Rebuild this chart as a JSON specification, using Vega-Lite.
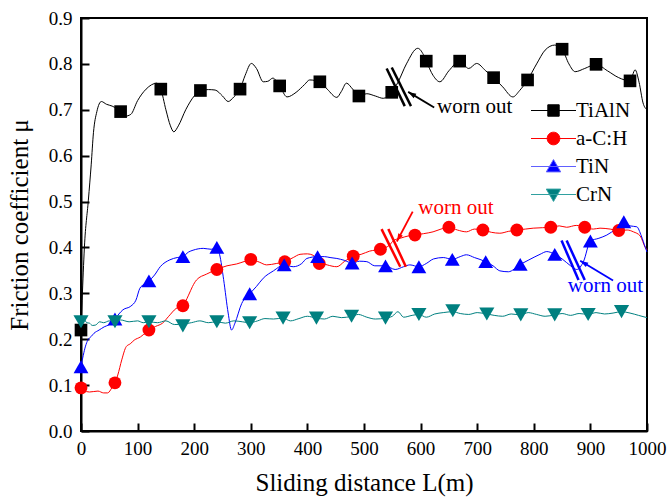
{
 "$schema": "https://vega.github.io/schema/vega-lite/v6.json",
 "width": 566,
 "height": 413,
 "autosize": {"type": "none"},
 "padding": {"left": 81, "top": 18, "right": 24, "bottom": 67},
 "background": "white",
 "config": {
  "font": "Liberation Serif",
  "view": {"stroke": "black", "strokeWidth": 2},
  "axis": {
   "grid": false,
   "domainColor": "black",
   "domainWidth": 2,
   "tickColor": "black",
   "tickWidth": 2,
   "labelFont": "Liberation Serif",
   "labelFontSize": 19,
   "labelColor": "black",
   "titleFont": "Liberation Serif",
   "titleFontSize": 25,
   "titleFontWeight": "normal",
   "titleColor": "black",
   "zindex": 1
  },
  "legend": {
   "labelFont": "Liberation Serif",
   "labelFontSize": 21,
   "labelColor": "black"
  }
 },
 "datasets": {
  "lines": [
   {"series":"TiAlN","x":0,"y":0.22},{"series":"TiAlN","x":2,"y":0.285},{"series":"TiAlN","x":6,"y":0.4},{"series":"TiAlN","x":13,"y":0.503},{"series":"TiAlN","x":18,"y":0.58},{"series":"TiAlN","x":22,"y":0.65},{"series":"TiAlN","x":28,"y":0.696},{"series":"TiAlN","x":36,"y":0.718},{"series":"TiAlN","x":45,"y":0.712},{"series":"TiAlN","x":55,"y":0.708},{"series":"TiAlN","x":70,"y":0.696},{"series":"TiAlN","x":78,"y":0.686},{"series":"TiAlN","x":88,"y":0.69},{"series":"TiAlN","x":100,"y":0.72},{"series":"TiAlN","x":115,"y":0.745},{"series":"TiAlN","x":134,"y":0.758},{"series":"TiAlN","x":141,"y":0.745},{"series":"TiAlN","x":150,"y":0.7},{"series":"TiAlN","x":158,"y":0.665},{"series":"TiAlN","x":164,"y":0.652},{"series":"TiAlN","x":172,"y":0.665},{"series":"TiAlN","x":185,"y":0.7},{"series":"TiAlN","x":200,"y":0.73},{"series":"TiAlN","x":211,"y":0.742},{"series":"TiAlN","x":225,"y":0.744},{"series":"TiAlN","x":237,"y":0.743},{"series":"TiAlN","x":250,"y":0.73},{"series":"TiAlN","x":260,"y":0.718},{"series":"TiAlN","x":270,"y":0.728},{"series":"TiAlN","x":281,"y":0.745},{"series":"TiAlN","x":290,"y":0.775},{"series":"TiAlN","x":301,"y":0.801},{"series":"TiAlN","x":310,"y":0.79},{"series":"TiAlN","x":322,"y":0.761},{"series":"TiAlN","x":330,"y":0.762},{"series":"TiAlN","x":339,"y":0.769},{"series":"TiAlN","x":351,"y":0.752},{"series":"TiAlN","x":364,"y":0.728},{"series":"TiAlN","x":380,"y":0.738},{"series":"TiAlN","x":395,"y":0.755},{"series":"TiAlN","x":404,"y":0.765},{"series":"TiAlN","x":422,"y":0.761},{"series":"TiAlN","x":435,"y":0.745},{"series":"TiAlN","x":452,"y":0.727},{"series":"TiAlN","x":460,"y":0.74},{"series":"TiAlN","x":469,"y":0.758},{"series":"TiAlN","x":480,"y":0.745},{"series":"TiAlN","x":491,"y":0.73},{"series":"TiAlN","x":505,"y":0.735},{"series":"TiAlN","x":520,"y":0.73},{"series":"TiAlN","x":534,"y":0.725},{"series":"TiAlN","x":549,"y":0.738},{"series":"TiAlN","x":560,"y":0.76},{"series":"TiAlN","x":575,"y":0.8},{"series":"TiAlN","x":595,"y":0.834},{"series":"TiAlN","x":605,"y":0.82},{"series":"TiAlN","x":610,"y":0.806},{"series":"TiAlN","x":622,"y":0.775},{"series":"TiAlN","x":634,"y":0.761},{"series":"TiAlN","x":650,"y":0.785},{"series":"TiAlN","x":669,"y":0.806},{"series":"TiAlN","x":685,"y":0.79},{"series":"TiAlN","x":699,"y":0.801},{"series":"TiAlN","x":715,"y":0.785},{"series":"TiAlN","x":729,"y":0.77},{"series":"TiAlN","x":745,"y":0.75},{"series":"TiAlN","x":763,"y":0.728},{"series":"TiAlN","x":775,"y":0.742},{"series":"TiAlN","x":789,"y":0.765},{"series":"TiAlN","x":805,"y":0.8},{"series":"TiAlN","x":820,"y":0.83},{"series":"TiAlN","x":837,"y":0.841},{"series":"TiAlN","x":850,"y":0.832},{"series":"TiAlN","x":862,"y":0.8},{"series":"TiAlN","x":873,"y":0.783},{"series":"TiAlN","x":890,"y":0.79},{"series":"TiAlN","x":910,"y":0.799},{"series":"TiAlN","x":930,"y":0.785},{"series":"TiAlN","x":950,"y":0.77},{"series":"TiAlN","x":970,"y":0.763},{"series":"TiAlN","x":979,"y":0.787},{"series":"TiAlN","x":986,"y":0.76},{"series":"TiAlN","x":993,"y":0.715},{"series":"TiAlN","x":1000,"y":0.7},
   {"series":"a-C:H","x":0,"y":0.094},{"series":"a-C:H","x":5,"y":0.088},{"series":"a-C:H","x":15,"y":0.085},{"series":"a-C:H","x":30,"y":0.087},{"series":"a-C:H","x":40,"y":0.083},{"series":"a-C:H","x":47,"y":0.083},{"series":"a-C:H","x":55,"y":0.095},{"series":"a-C:H","x":60,"y":0.105},{"series":"a-C:H","x":65,"y":0.122},{"series":"a-C:H","x":72,"y":0.155},{"series":"a-C:H","x":80,"y":0.184},{"series":"a-C:H","x":87,"y":0.19},{"series":"a-C:H","x":94,"y":0.198},{"series":"a-C:H","x":105,"y":0.205},{"series":"a-C:H","x":115,"y":0.215},{"series":"a-C:H","x":120,"y":0.22},{"series":"a-C:H","x":132,"y":0.228},{"series":"a-C:H","x":144,"y":0.235},{"series":"a-C:H","x":155,"y":0.25},{"series":"a-C:H","x":168,"y":0.267},{"series":"a-C:H","x":180,"y":0.273},{"series":"a-C:H","x":190,"y":0.296},{"series":"a-C:H","x":197,"y":0.315},{"series":"a-C:H","x":204,"y":0.329},{"series":"a-C:H","x":222,"y":0.342},{"series":"a-C:H","x":240,"y":0.352},{"series":"a-C:H","x":258,"y":0.36},{"series":"a-C:H","x":275,"y":0.364},{"series":"a-C:H","x":290,"y":0.37},{"series":"a-C:H","x":300,"y":0.374},{"series":"a-C:H","x":315,"y":0.368},{"series":"a-C:H","x":328,"y":0.362},{"series":"a-C:H","x":345,"y":0.365},{"series":"a-C:H","x":360,"y":0.369},{"series":"a-C:H","x":375,"y":0.378},{"series":"a-C:H","x":387,"y":0.385},{"series":"a-C:H","x":400,"y":0.386},{"series":"a-C:H","x":410,"y":0.383},{"series":"a-C:H","x":421,"y":0.368},{"series":"a-C:H","x":435,"y":0.362},{"series":"a-C:H","x":452,"y":0.358},{"series":"a-C:H","x":466,"y":0.37},{"series":"a-C:H","x":481,"y":0.381},{"series":"a-C:H","x":495,"y":0.385},{"series":"a-C:H","x":510,"y":0.392},{"series":"a-C:H","x":529,"y":0.396},{"series":"a-C:H","x":545,"y":0.405},{"series":"a-C:H","x":552,"y":0.415},{"series":"a-C:H","x":564,"y":0.42},{"series":"a-C:H","x":578,"y":0.425},{"series":"a-C:H","x":590,"y":0.427},{"series":"a-C:H","x":605,"y":0.43},{"series":"a-C:H","x":622,"y":0.434},{"series":"a-C:H","x":636,"y":0.44},{"series":"a-C:H","x":650,"y":0.444},{"series":"a-C:H","x":665,"y":0.438},{"series":"a-C:H","x":681,"y":0.434},{"series":"a-C:H","x":695,"y":0.44},{"series":"a-C:H","x":710,"y":0.438},{"series":"a-C:H","x":725,"y":0.433},{"series":"a-C:H","x":740,"y":0.431},{"series":"a-C:H","x":755,"y":0.435},{"series":"a-C:H","x":770,"y":0.438},{"series":"a-C:H","x":785,"y":0.44},{"series":"a-C:H","x":799,"y":0.442},{"series":"a-C:H","x":815,"y":0.443},{"series":"a-C:H","x":830,"y":0.444},{"series":"a-C:H","x":845,"y":0.447},{"series":"a-C:H","x":858,"y":0.444},{"series":"a-C:H","x":875,"y":0.448},{"series":"a-C:H","x":890,"y":0.444},{"series":"a-C:H","x":905,"y":0.44},{"series":"a-C:H","x":917,"y":0.442},{"series":"a-C:H","x":935,"y":0.44},{"series":"a-C:H","x":950,"y":0.437},{"series":"a-C:H","x":965,"y":0.438},{"series":"a-C:H","x":976,"y":0.434},{"series":"a-C:H","x":988,"y":0.425},{"series":"a-C:H","x":997,"y":0.4},{"series":"a-C:H","x":1000,"y":0.395},
   {"series":"TiN","x":0,"y":0.14},{"series":"TiN","x":4,"y":0.165},{"series":"TiN","x":8,"y":0.185},{"series":"TiN","x":12,"y":0.198},{"series":"TiN","x":18,"y":0.206},{"series":"TiN","x":23,"y":0.213},{"series":"TiN","x":32,"y":0.22},{"series":"TiN","x":41,"y":0.227},{"series":"TiN","x":50,"y":0.232},{"series":"TiN","x":60,"y":0.244},{"series":"TiN","x":67,"y":0.255},{"series":"TiN","x":74,"y":0.264},{"series":"TiN","x":88,"y":0.272},{"series":"TiN","x":97,"y":0.285},{"series":"TiN","x":104,"y":0.311},{"series":"TiN","x":112,"y":0.32},{"series":"TiN","x":120,"y":0.327},{"series":"TiN","x":130,"y":0.34},{"series":"TiN","x":140,"y":0.358},{"series":"TiN","x":157,"y":0.373},{"series":"TiN","x":170,"y":0.378},{"series":"TiN","x":180,"y":0.38},{"series":"TiN","x":190,"y":0.39},{"series":"TiN","x":198,"y":0.394},{"series":"TiN","x":216,"y":0.398},{"series":"TiN","x":230,"y":0.396},{"series":"TiN","x":240,"y":0.4},{"series":"TiN","x":245,"y":0.384},{"series":"TiN","x":252,"y":0.33},{"series":"TiN","x":260,"y":0.257},{"series":"TiN","x":266,"y":0.22},{"series":"TiN","x":272,"y":0.235},{"series":"TiN","x":284,"y":0.278},{"series":"TiN","x":298,"y":0.299},{"series":"TiN","x":310,"y":0.315},{"series":"TiN","x":322,"y":0.333},{"series":"TiN","x":340,"y":0.349},{"series":"TiN","x":359,"y":0.362},{"series":"TiN","x":375,"y":0.358},{"series":"TiN","x":390,"y":0.365},{"series":"TiN","x":399,"y":0.376},{"series":"TiN","x":418,"y":0.38},{"series":"TiN","x":430,"y":0.38},{"series":"TiN","x":440,"y":0.378},{"series":"TiN","x":452,"y":0.376},{"series":"TiN","x":465,"y":0.372},{"series":"TiN","x":479,"y":0.366},{"series":"TiN","x":492,"y":0.37},{"series":"TiN","x":505,"y":0.369},{"series":"TiN","x":519,"y":0.36},{"series":"TiN","x":538,"y":0.36},{"series":"TiN","x":555,"y":0.352},{"series":"TiN","x":570,"y":0.358},{"series":"TiN","x":581,"y":0.362},{"series":"TiN","x":597,"y":0.358},{"series":"TiN","x":610,"y":0.365},{"series":"TiN","x":623,"y":0.375},{"series":"TiN","x":640,"y":0.378},{"series":"TiN","x":656,"y":0.374},{"series":"TiN","x":670,"y":0.38},{"series":"TiN","x":681,"y":0.384},{"series":"TiN","x":695,"y":0.378},{"series":"TiN","x":715,"y":0.369},{"series":"TiN","x":728,"y":0.36},{"series":"TiN","x":740,"y":0.349},{"series":"TiN","x":755,"y":0.347},{"series":"TiN","x":776,"y":0.363},{"series":"TiN","x":790,"y":0.372},{"series":"TiN","x":811,"y":0.385},{"series":"TiN","x":823,"y":0.391},{"series":"TiN","x":837,"y":0.385},{"series":"TiN","x":850,"y":0.375},{"series":"TiN","x":865,"y":0.36},{"series":"TiN","x":876,"y":0.352},{"series":"TiN","x":888,"y":0.37},{"series":"TiN","x":900,"y":0.414},{"series":"TiN","x":915,"y":0.42},{"series":"TiN","x":929,"y":0.427},{"series":"TiN","x":945,"y":0.44},{"series":"TiN","x":959,"y":0.452},{"series":"TiN","x":970,"y":0.447},{"series":"TiN","x":982,"y":0.445},{"series":"TiN","x":990,"y":0.425},{"series":"TiN","x":997,"y":0.4},{"series":"TiN","x":1000,"y":0.39},
   {"series":"CrN","x":0,"y":0.238},{"series":"CrN","x":5,"y":0.245},{"series":"CrN","x":10,"y":0.236},{"series":"CrN","x":15,"y":0.235},{"series":"CrN","x":20,"y":0.23},{"series":"CrN","x":26,"y":0.231},{"series":"CrN","x":33,"y":0.238},{"series":"CrN","x":40,"y":0.236},{"series":"CrN","x":50,"y":0.24},{"series":"CrN","x":60,"y":0.238},{"series":"CrN","x":70,"y":0.242},{"series":"CrN","x":85,"y":0.238},{"series":"CrN","x":100,"y":0.24},{"series":"CrN","x":110,"y":0.236},{"series":"CrN","x":120,"y":0.238},{"series":"CrN","x":135,"y":0.236},{"series":"CrN","x":150,"y":0.24},{"series":"CrN","x":165,"y":0.232},{"series":"CrN","x":180,"y":0.233},{"series":"CrN","x":195,"y":0.236},{"series":"CrN","x":210,"y":0.24},{"series":"CrN","x":225,"y":0.236},{"series":"CrN","x":240,"y":0.238},{"series":"CrN","x":255,"y":0.235},{"series":"CrN","x":270,"y":0.24},{"series":"CrN","x":285,"y":0.238},{"series":"CrN","x":298,"y":0.236},{"series":"CrN","x":312,"y":0.24},{"series":"CrN","x":325,"y":0.245},{"series":"CrN","x":340,"y":0.244},{"series":"CrN","x":357,"y":0.246},{"series":"CrN","x":370,"y":0.24},{"series":"CrN","x":385,"y":0.245},{"series":"CrN","x":400,"y":0.25},{"series":"CrN","x":416,"y":0.246},{"series":"CrN","x":430,"y":0.244},{"series":"CrN","x":445,"y":0.25},{"series":"CrN","x":460,"y":0.247},{"series":"CrN","x":478,"y":0.25},{"series":"CrN","x":490,"y":0.254},{"series":"CrN","x":505,"y":0.248},{"series":"CrN","x":520,"y":0.244},{"series":"CrN","x":538,"y":0.246},{"series":"CrN","x":550,"y":0.25},{"series":"CrN","x":560,"y":0.26},{"series":"CrN","x":570,"y":0.248},{"series":"CrN","x":585,"y":0.252},{"series":"CrN","x":597,"y":0.254},{"series":"CrN","x":610,"y":0.248},{"series":"CrN","x":625,"y":0.255},{"series":"CrN","x":640,"y":0.258},{"series":"CrN","x":657,"y":0.26},{"series":"CrN","x":670,"y":0.256},{"series":"CrN","x":685,"y":0.254},{"series":"CrN","x":700,"y":0.258},{"series":"CrN","x":717,"y":0.255},{"series":"CrN","x":730,"y":0.252},{"series":"CrN","x":745,"y":0.25},{"series":"CrN","x":760,"y":0.255},{"series":"CrN","x":777,"y":0.253},{"series":"CrN","x":790,"y":0.258},{"series":"CrN","x":805,"y":0.254},{"series":"CrN","x":820,"y":0.25},{"series":"CrN","x":837,"y":0.253},{"series":"CrN","x":850,"y":0.256},{"series":"CrN","x":865,"y":0.252},{"series":"CrN","x":880,"y":0.256},{"series":"CrN","x":896,"y":0.254},{"series":"CrN","x":910,"y":0.258},{"series":"CrN","x":925,"y":0.255},{"series":"CrN","x":940,"y":0.257},{"series":"CrN","x":955,"y":0.26},{"series":"CrN","x":970,"y":0.257},{"series":"CrN","x":985,"y":0.252},{"series":"CrN","x":1000,"y":0.247}
  ],
  "markers": [
   {"series":"TiAlN","x":0,"y":0.22},{"series":"TiAlN","x":70,"y":0.696},{"series":"TiAlN","x":141,"y":0.745},{"series":"TiAlN","x":211,"y":0.742},{"series":"TiAlN","x":281,"y":0.745},{"series":"TiAlN","x":351,"y":0.752},{"series":"TiAlN","x":422,"y":0.761},{"series":"TiAlN","x":491,"y":0.73},{"series":"TiAlN","x":549,"y":0.738},{"series":"TiAlN","x":610,"y":0.806},{"series":"TiAlN","x":669,"y":0.806},{"series":"TiAlN","x":729,"y":0.77},{"series":"TiAlN","x":789,"y":0.765},{"series":"TiAlN","x":850,"y":0.832},{"series":"TiAlN","x":910,"y":0.799},{"series":"TiAlN","x":970,"y":0.763},
   {"series":"a-C:H","x":0,"y":0.094},{"series":"a-C:H","x":60,"y":0.105},{"series":"a-C:H","x":120,"y":0.22},{"series":"a-C:H","x":180,"y":0.273},{"series":"a-C:H","x":240,"y":0.352},{"series":"a-C:H","x":300,"y":0.374},{"series":"a-C:H","x":360,"y":0.369},{"series":"a-C:H","x":421,"y":0.365},{"series":"a-C:H","x":481,"y":0.381},{"series":"a-C:H","x":529,"y":0.396},{"series":"a-C:H","x":590,"y":0.427},{"series":"a-C:H","x":650,"y":0.444},{"series":"a-C:H","x":710,"y":0.438},{"series":"a-C:H","x":770,"y":0.438},{"series":"a-C:H","x":830,"y":0.444},{"series":"a-C:H","x":890,"y":0.444},{"series":"a-C:H","x":950,"y":0.437},
   {"series":"TiN","x":0,"y":0.14},{"series":"TiN","x":60,"y":0.244},{"series":"TiN","x":120,"y":0.327},{"series":"TiN","x":180,"y":0.38},{"series":"TiN","x":240,"y":0.4},{"series":"TiN","x":298,"y":0.299},{"series":"TiN","x":359,"y":0.362},{"series":"TiN","x":418,"y":0.38},{"series":"TiN","x":479,"y":0.366},{"series":"TiN","x":538,"y":0.36},{"series":"TiN","x":597,"y":0.358},{"series":"TiN","x":656,"y":0.374},{"series":"TiN","x":715,"y":0.369},{"series":"TiN","x":776,"y":0.363},{"series":"TiN","x":837,"y":0.385},{"series":"TiN","x":900,"y":0.414},{"series":"TiN","x":959,"y":0.456},
   {"series":"CrN","x":0,"y":0.238},{"series":"CrN","x":60,"y":0.238},{"series":"CrN","x":120,"y":0.238},{"series":"CrN","x":180,"y":0.229},{"series":"CrN","x":240,"y":0.238},{"series":"CrN","x":298,"y":0.236},{"series":"CrN","x":357,"y":0.246},{"series":"CrN","x":416,"y":0.246},{"series":"CrN","x":478,"y":0.25},{"series":"CrN","x":538,"y":0.246},{"series":"CrN","x":597,"y":0.254},{"series":"CrN","x":657,"y":0.262},{"series":"CrN","x":717,"y":0.255},{"series":"CrN","x":777,"y":0.253},{"series":"CrN","x":837,"y":0.253},{"series":"CrN","x":896,"y":0.254},{"series":"CrN","x":955,"y":0.26}
  ],
  "slashes": [
   {"series":"TiAlN","x":540,"y":0.79,"x2":572,"y2":0.708},
   {"series":"TiAlN","x":549,"y":0.792,"x2":583,"y2":0.708},
   {"series":"a-C:H","x":531,"y":0.44,"x2":564,"y2":0.358},
   {"series":"a-C:H","x":543,"y":0.44,"x2":574,"y2":0.358},
   {"series":"TiN","x":849,"y":0.415,"x2":879,"y2":0.329},
   {"series":"TiN","x":858,"y":0.415,"x2":890,"y2":0.329}
  ],
  "arrows": [
   {"series":"TiAlN","x":578,"y":0.739,"x2":624,"y2":0.705},
   {"series":"a-C:H","x":558,"y":0.413,"x2":586,"y2":0.478},
   {"series":"TiN","x":882,"y":0.371,"x2":940,"y2":0.328}
  ],
  "notes": [
   {"series":"TiAlN","x":629,"y":0.706,"text":"worn out"},
   {"series":"a-C:H","x":596,"y":0.485,"text":"worn out"},
   {"series":"TiN","x":860,"y":0.316,"text":"worn out"}
  ]
 },
 "layer": [
  {
   "data": {"name": "lines"},
   "mark": {"type": "line", "strokeWidth": 1, "interpolate": "monotone"},
   "encoding": {
    "x": {
     "field": "x", "type": "quantitative",
     "scale": {"domain": [0, 1000], "nice": false, "zero": false},
     "axis": {
      "title": "Sliding distance L(m)",
      "values": [0,50,100,150,200,250,300,350,400,450,500,550,600,650,700,750,800,850,900,950,1000],
      "labelExpr": "datum.value % 100 === 0 ? datum.label : ''",
      "format": "d",
      "tickSize": {"condition": {"test": "datum.value % 100 === 0", "value": -8}, "value": -4},
      "labelFont": "Liberation Serif",
      "titleFont": "Liberation Serif",
      "labelPadding": 16,
      "titlePadding": 12,
      "labelFlush": false,
      "labelOverlap": false
     }
    },
    "y": {
     "field": "y", "type": "quantitative",
     "scale": {"domain": [0, 0.9], "nice": false, "zero": false},
     "axis": {
      "title": "Friction coefficient μ",
      "values": [0,0.05,0.1,0.15,0.2,0.25,0.3,0.35,0.4,0.45,0.5,0.55,0.6,0.65,0.7,0.75,0.8,0.85,0.9],
      "format": ".1f",
      "labelExpr": "abs(datum.value*10 - round(datum.value*10)) < 0.001 ? datum.label : ''",
      "tickSize": {"condition": {"test": "abs(datum.value*10 - round(datum.value*10)) < 0.001", "value": -8}, "value": -4},
      "labelFont": "Liberation Serif",
      "titleFont": "Liberation Serif",
      "labelPadding": 17,
      "titlePadding": 16,
      "labelFlush": false,
      "labelOverlap": false
     }
    },
    "color": {"field": "series", "type": "nominal",
     "scale": {"domain": ["CrN","TiN","a-C:H","TiAlN"], "range": ["#008080","#0000ff","#ff0000","#000000"]},
     "legend": null}
   }
  },
  {
   "data": {"name": "markers"},
   "transform": [{"filter": "datum.series === 'TiAlN'"}],
   "mark": {"type": "point", "filled": true, "shape": "square", "color": "#000000", "size": 160, "opacity": 1},
   "encoding": {"x": {"field": "x", "type": "quantitative"}, "y": {"field": "y", "type": "quantitative"}}
  },
  {
   "data": {"name": "markers"},
   "transform": [{"filter": "datum.series === 'a-C:H'"}],
   "mark": {"type": "point", "filled": true, "shape": "circle", "color": "#ff0000", "size": 165, "opacity": 1},
   "encoding": {"x": {"field": "x", "type": "quantitative"}, "y": {"field": "y", "type": "quantitative"}}
  },
  {
   "data": {"name": "markers"},
   "transform": [{"filter": "datum.series === 'TiN'"}],
   "mark": {"type": "point", "filled": true, "shape": "triangle-up", "color": "#0000ff", "size": 220, "opacity": 1},
   "encoding": {"x": {"field": "x", "type": "quantitative"}, "y": {"field": "y", "type": "quantitative"}}
  },
  {
   "data": {"name": "markers"},
   "transform": [{"filter": "datum.series === 'CrN'"}],
   "mark": {"type": "point", "filled": true, "shape": "triangle-down", "color": "#008080", "size": 230, "opacity": 1},
   "encoding": {"x": {"field": "x", "type": "quantitative"}, "y": {"field": "y", "type": "quantitative"}}
  },
  {
   "data": {"name": "slashes"},
   "mark": {"type": "rule", "strokeWidth": 2.5},
   "encoding": {
    "x": {"field": "x", "type": "quantitative"},
    "y": {"field": "y", "type": "quantitative"},
    "x2": {"field": "x2"},
    "y2": {"field": "y2"},
    "color": {"field": "series", "type": "nominal", "legend": null}
   }
  },
  {
   "data": {"name": "arrows"},
   "mark": {"type": "rule", "strokeWidth": 1.8},
   "encoding": {
    "x": {"field": "x", "type": "quantitative"},
    "y": {"field": "y", "type": "quantitative"},
    "x2": {"field": "x2"},
    "y2": {"field": "y2"},
    "color": {"field": "series", "type": "nominal", "legend": null}
   }
  },
  {
   "data": {"name": "arrows"},
   "transform": [{"filter": "datum.series !== 'a-C:H'"}],
   "mark": {"type": "point", "filled": true, "opacity": 1, "size": 64, "angle": -59, "shape": "M0,0L0.65,2L-0.65,2Z"},
   "encoding": {
    "x": {"field": "x", "type": "quantitative"},
    "y": {"field": "y", "type": "quantitative"},
    "color": {"field": "series", "type": "nominal", "legend": null}
   }
  },
  {
   "data": {"name": "arrows"},
   "transform": [{"filter": "datum.series === 'a-C:H'"}],
   "mark": {"type": "point", "filled": true, "opacity": 1, "size": 64, "angle": 208, "shape": "M0,0L0.65,2L-0.65,2Z"},
   "encoding": {
    "x": {"field": "x", "type": "quantitative"},
    "y": {"field": "y", "type": "quantitative"},
    "color": {"field": "series", "type": "nominal", "legend": null}
   }
  },
  {
   "data": {"name": "notes"},
   "mark": {"type": "text", "align": "left", "baseline": "middle", "font": "Liberation Serif", "fontSize": 21},
   "encoding": {
    "x": {"field": "x", "type": "quantitative"},
    "y": {"field": "y", "type": "quantitative"},
    "text": {"field": "text"},
    "color": {"field": "series", "type": "nominal", "legend": null}
   }
  },
  {
   "data": {"name": "markers"},
   "transform": [{"filter": "datum.x < 0"}],
   "mark": {"type": "point", "filled": true, "opacity": 1},
   "encoding": {
    "x": {"field": "x", "type": "quantitative"},
    "y": {"field": "y", "type": "quantitative"},
    "shape": {"field": "series", "type": "nominal",
     "scale": {"domain": ["TiAlN","a-C:H","TiN","CrN"],
      "range": [
       "M-3.75,0H3.75M-0.95,-0.95H0.95V0.95H-0.95Z",
       "M-3.75,0H3.75M-1.05,0A1.05,1.05,0,1,1,1.05,0A1.05,1.05,0,1,1,-1.05,0Z",
       "M-3.75,0H3.75M0,-1.15L1.2,0.9H-1.2Z",
       "M-3.75,0H3.75M-1.2,-0.9H1.2L0,1.15Z"
      ]},
     "legend": {"title": null, "orient": "none", "legendX": 462, "legendY": 82, "padding": 0, "symbolSize": 144, "symbolStrokeWidth": 1, "labelOffset": 12, "rowPadding": 6, "labelLimit": 200}},
    "fill": {"field": "series", "type": "nominal",
     "scale": {"domain": ["TiAlN","a-C:H","TiN","CrN"], "range": ["#000000","#ff0000","#0000ff","#008080"]},
     "legend": {"title": null, "orient": "none", "legendX": 462, "legendY": 82, "padding": 0, "symbolSize": 144, "symbolStrokeWidth": 1, "labelOffset": 12, "rowPadding": 6, "labelLimit": 200}},
    "stroke": {"field": "series", "type": "nominal",
     "scale": {"domain": ["TiAlN","a-C:H","TiN","CrN"], "range": ["#000000","#ff0000","#6060ff","#30a0a0"]},
     "legend": {"title": null, "orient": "none", "legendX": 462, "legendY": 82, "padding": 0, "symbolSize": 144, "symbolStrokeWidth": 1, "labelOffset": 12, "rowPadding": 6, "labelLimit": 200}}
   }
  }
 ]
}
